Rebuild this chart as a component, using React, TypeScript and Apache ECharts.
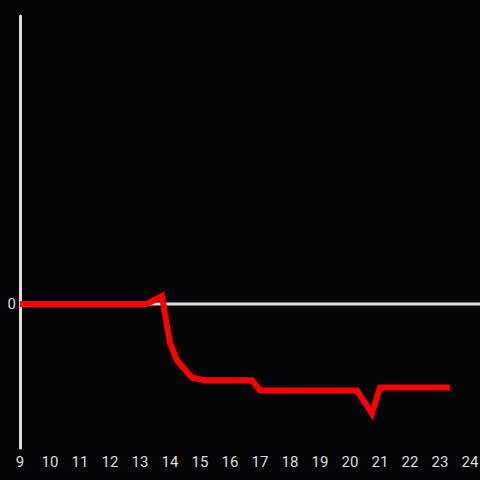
import React, { useEffect, useRef } from "react";
import * as echarts from "echarts";

const xValues = [9, 13.23, 13.73, 14.0, 14.23, 14.73, 15.17, 16.73, 17.0, 20.23, 20.73, 21.0, 23.33];
const yValues = [0, 0, 0.055, -0.27, -0.39, -0.51, -0.53, -0.53, -0.6, -0.6, -0.76, -0.58, -0.58];
const zeroLineX = [9, 24.333];
const zeroLineY = [0, 0];

export default function App() {
  const ref = useRef<HTMLDivElement>(null);
  useEffect(() => {
    document.body.style.margin = "0";
    const chart = echarts.init(ref.current!, null, { renderer: "svg" });
    chart.setOption({
      animation: false,
      backgroundColor: "#050407",
      grid: { left: 20, right: 0, top: 16, bottom: 32, outerBoundsMode: "none", containLabel: false },
      xAxis: {
        type: "value",
        min: 9,
        max: 24.333,
        interval: 1,
        axisLine: { show: false },
        axisTick: { show: false },
        splitLine: { show: false },
        showMaxLabel: false,
        axisLabel: {
          color: "#dddddd",
          fontSize: 15,
          fontFamily: "Roboto, sans-serif",
          margin: 6,
          formatter: (v: number) => (Number.isInteger(v) ? String(v) : ""),
        },
      },
      yAxis: {
        type: "value",
        min: -1,
        max: 2,
        interval: 1,
        axisLine: { show: true, onZero: false, lineStyle: { color: "#dddddd", width: 3 } },
        axisTick: { show: false },
        splitLine: { show: false },
        axisLabel: {
          color: "#dddddd",
          fontSize: 15,
          fontFamily: "Roboto, sans-serif",
          margin: 4,
          formatter: (v: number) => (v === 0 ? "0" : ""),
        },
      },
      series: [
        {
          type: "line",
          data: zeroLineX.map((x, i) => [x, zeroLineY[i]]),
          showSymbol: false,
          silent: true,
          lineStyle: { color: "#dddddd", width: 3 },
          z: 1,
        },
        {
          type: "line",
          data: xValues.map((x, i) => [x, yValues[i]]),
          showSymbol: false,
          lineStyle: { color: "#ff0000", width: 6, join: "miter" },
          z: 2,
        },
      ],
    });
    return () => chart.dispose();
  }, []);
  return <div ref={ref} style={{ width: 480, height: 480 }} />;
}
